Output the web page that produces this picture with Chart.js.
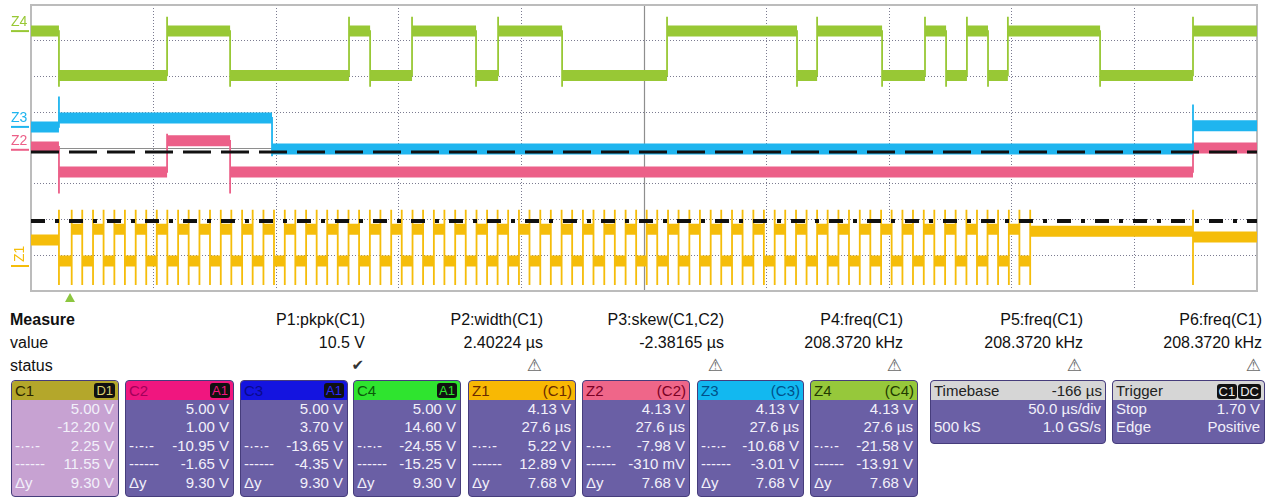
<!DOCTYPE html>
<html>
<head>
<meta charset="utf-8">
<script src="https://cdn.jsdelivr.net/npm/chart.js@4.4.1/dist/chart.umd.min.js"></script>
<style>
body { margin: 0; background: #fff; font-family: "Liberation Sans", Arial, sans-serif; }
#wrap { position: relative; width: 1271px; height: 500px; overflow: hidden; }
#scope { position: absolute; left: 0; top: 0; }
.m { position: absolute; font-size: 16px; color: #111; white-space: nowrap; line-height: 18px; }
.mr { text-align: right; }
.ok { color: #333; font-family: "DejaVu Sans"; font-size: 15px; }
.warn { color: #6a6a6a; font-family: "DejaVu Sans"; font-size: 17px; }
.box { position: absolute; top: 380px; height: 117px; background: #6a5fa5; border: 1px solid #463d7c;
       border-radius: 4px; box-sizing: border-box; color: #f2f0fa; font-size: 15px; overflow: hidden; }
.hd { height: 19px; display: flex; justify-content: space-between; align-items: center; padding: 0 3px;
      border-radius: 3px 3px 0 0; font-size: 15px; }
.badge { background: #111; border-radius: 3px; padding: 0 2px; font-size: 13px; line-height: 15px; margin-left: 1px; }
.row { height: 18.4px; line-height: 18.4px; display: flex; justify-content: space-between; padding: 0 4px 0 3px; white-space: nowrap; }
</style>
</head>
<body>
<div id="wrap">
  <canvas id="scope" width="1271" height="305"></canvas>
  <div id="panel"></div>
</div>
<script>
// time axis in µs (50 µs/div, 10 div), vertical axis in divisions (-4..4)
const timeMin = 0;
const timeMax = 500;

// Z4 (green) step trace: edge times and level of each segment
const z4Edges = [0, 11.4, 55.5, 81.2, 129.7, 138.3, 155.4, 181.5, 190.5, 216.6, 259.4, 312.4, 320.6, 347.1, 364.6, 373.2, 381.7, 390.3, 398.4, 436.0, 473.9, 500];
const z4Levels = [3.27, 2.03, 3.27, 2.03, 3.27, 2.03, 3.27, 2.03, 3.27, 2.03, 3.27, 2.03, 3.27, 2.03, 3.27, 2.03, 3.27, 2.03, 3.27, 2.03, 3.27];

// Z3 (cyan)
const z3Edges = [0, 11.4, 98.3, 473.9, 500];
const z3Levels = [0.59, 0.84, -0.03, 0.62];

// Z2 (pink)
const z2Edges = [0, 11.4, 55.5, 81.2, 473.9, 500];
const z2Levels = [0.03, -0.67, 0.20, -0.67, 0.0];

// Z1 (yellow) pulse train
const z1Start = -2.57;
const z1High = -2.27;
const z1Low = -3.16;
const z1FirstFall = 11.4;
const z1Rise = [16.6, 25.3, 34.0, 42.7, 51.3, 60.0, 68.7, 77.4, 86.1, 94.8, 103.5, 112.2, 120.8, 129.5, 138.2,
  146.9, 155.6, 164.3, 173.0, 181.7, 190.3, 199.0, 207.7, 216.4, 225.1, 233.8, 242.5, 251.1, 259.8, 268.5,
  277.2, 285.9, 294.6, 303.3, 312.0, 320.6, 329.3, 338.0, 346.7, 355.4, 364.1, 372.8, 381.5, 390.1, 398.8];
const z1Fall = [20.9, 29.6, 38.3, 47.0, 55.6, 64.3, 73.0, 81.7, 90.4, 99.1, 107.8, 116.5, 125.1, 133.8, 142.5,
  151.2, 159.9, 168.6, 177.3, 186.0, 194.6, 203.3, 212.0, 220.7, 229.4, 238.1, 246.8, 255.4, 264.1, 272.8,
  281.5, 290.2, 298.9, 307.6, 316.3, 324.9, 333.6, 342.3, 351.0, 359.7, 368.4, 377.1, 385.8, 394.4, 403.1];
const z1TailEdges = [407.5, 473.9, 500];
const z1TailLevels = [-2.33, -2.49];
const z1Spike = [-3.83, -1.73];

// black reference lines
const ref1Level = -0.11;
const ref2Level = -2.04;
const triggerTime = 15.9;

// measurement table
const measureNames = ['P1:pkpk(C1)', 'P2:width(C1)', 'P3:skew(C1,C2)', 'P4:freq(C1)', 'P5:freq(C1)', 'P6:freq(C1)'];
const measureValues = ['10.5 V', '2.40224 µs', '-2.38165 µs', '208.3720 kHz', '208.3720 kHz', '208.3720 kHz'];
const measureStatus = ['ok', 'warn', 'warn', 'warn', 'warn', 'warn'];

// channel descriptor boxes
const chanNames = ['C1', 'C2', 'C3', 'C4', 'Z1', 'Z2', 'Z3', 'Z4'];
const chanTags = ['D1', 'A1', 'A1', 'A1', '(C1)', '(C2)', '(C3)', '(C4)'];
const chanScale = ['5.00 V', '5.00 V', '5.00 V', '5.00 V', '4.13 V', '4.13 V', '4.13 V', '4.13 V'];
const chanOffset = ['-12.20 V', '1.00 V', '3.70 V', '14.60 V', '27.6 µs', '27.6 µs', '27.6 µs', '27.6 µs'];
const chanCursor1 = ['2.25 V', '-10.95 V', '-13.65 V', '-24.55 V', '5.22 V', '-7.98 V', '-10.68 V', '-21.58 V'];
const chanCursor2 = ['11.55 V', '-1.65 V', '-4.35 V', '-15.25 V', '12.89 V', '-310 mV', '-3.01 V', '-13.91 V'];
const chanDelta = ['9.30 V', '9.30 V', '9.30 V', '9.30 V', '7.68 V', '7.68 V', '7.68 V', '7.68 V'];

const timebaseRows = [['Timebase', '-166 µs'], ['', '50.0 µs/div'], ['500 kS', '1.0 GS/s']];
const triggerRows = [['Trigger', ''], ['Stop', '1.70 V'], ['Edge', 'Positive']];

// ---- build line data ----
const bandData = (edges, levels) => {
  const pts = [];
  for (let i = 0; i < levels.length; i++) {
    pts.push({ x: edges[i], y: levels[i] }, { x: edges[i + 1], y: levels[i] }, { x: edges[i + 1], y: null });
  }
  return pts;
};

const edgeData = (edges, levels, up, down) => {
  const pts = [{ x: edges[0], y: levels[0] }];
  for (let i = 1; i < levels.length; i++) {
    const t = edges[i], a = levels[i - 1], b = levels[i];
    pts.push({ x: t, y: a });
    if (Array.isArray(up)) {
      pts.push({ x: t, y: up[0] }, { x: t, y: up[1] });
    } else {
      pts.push({ x: t, y: b > a ? b + up : b - down });
    }
    pts.push({ x: t, y: b });
  }
  pts.push({ x: edges[edges.length - 1], y: levels[levels.length - 1] });
  return pts;
};

const z1Edges = [timeMin, z1FirstFall];
const z1Levels = [z1Start, z1Low];
z1Rise.forEach((r, i) => {
  z1Edges.push(r, z1Fall[i]);
  z1Levels.push(z1High, z1Low);
});
z1Edges.push(...z1TailEdges);
z1Levels.push(...z1TailLevels);

const colZ1 = '#f5bd0a';
const colZ2 = '#ec5f88';
const colZ3 = '#1fb5ef';
const colZ4 = '#98c835';

const band = (data, color) => ({ data, borderColor: color, borderWidth: 11, borderCapStyle: 'butt', spanGaps: false });
const thin = (data, color) => ({ data, borderColor: color, borderWidth: 1.8, spanGaps: false });

const datasets = [
  { data: [{ x: timeMin, y: ref1Level }, { x: timeMax, y: ref1Level }], borderColor: '#111', borderWidth: 3, borderDash: [28, 10] },
  { data: [{ x: timeMin, y: ref2Level }, { x: timeMax, y: ref2Level }], borderColor: '#111', borderWidth: 4, borderDash: [14, 10, 4, 10] },
  band(bandData(z4Edges, z4Levels), colZ4),
  thin(edgeData(z4Edges, z4Levels, 0.4, 0.32), colZ4),
  band(bandData(z3Edges, z3Levels), colZ3),
  thin(edgeData(z3Edges, z3Levels, 0.6, 0.2), colZ3),
  band(bandData(z2Edges, z2Levels), colZ2),
  thin(edgeData(z2Edges, z2Levels, 0.2, 0.6), colZ2),
  band(bandData(z1Edges, z1Levels), colZ1),
  thin(edgeData(z1Edges, z1Levels, z1Spike), colZ1),
];

const chanLabels = [
  ['Z4', colZ4, 3.27, false],
  ['Z3', colZ3, 0.59, false],
  ['Z2', colZ2, -0.05, false],
  ['Z1', colZ1, -3.3, true],
];

const scopeDecor = {
  id: 'scopeDecor',
  beforeDatasetsDraw(chart) {
    const { ctx, chartArea: a, scales: { x, y } } = chart;
    ctx.save();
    ctx.strokeStyle = '#8e8e8e';
    ctx.lineWidth = 1.2;
    ctx.beginPath();
    const cx = Math.round(x.getPixelForValue((timeMin + timeMax) / 2)) + 0.5;
    ctx.moveTo(cx, a.top);
    ctx.lineTo(cx, a.bottom);
    const cy = Math.round(y.getPixelForValue(0)) + 0.5;
    ctx.moveTo(a.left, cy);
    ctx.lineTo(a.right, cy);
    ctx.stroke();
    ctx.strokeStyle = '#bcbcbc';
    ctx.lineWidth = 2;
    ctx.strokeRect(a.left, a.top, a.width, a.height);
    ctx.restore();
  },
  afterDraw(chart) {
    const { ctx, chartArea: a, scales: { x, y } } = chart;
    ctx.save();
    ctx.font = '14px "Liberation Sans", Arial';
    chanLabels.forEach(([txt, color, lvl, rot]) => {
      const py = y.getPixelForValue(lvl);
      ctx.fillStyle = color;
      ctx.strokeStyle = color;
      ctx.lineWidth = 2;
      ctx.beginPath();
      ctx.moveTo(11, py);
      ctx.lineTo(a.left - 2, py);
      ctx.stroke();
      if (rot) {
        ctx.save();
        ctx.translate(24, py - 4);
        ctx.rotate(-Math.PI / 2);
        ctx.fillText(txt, 0, 0);
        ctx.restore();
      } else {
        ctx.fillText(txt, 11, py - 5);
      }
    });
    // trigger position marker
    const tx = x.getPixelForValue(triggerTime);
    ctx.fillStyle = '#8cc63f';
    ctx.beginPath();
    ctx.moveTo(tx, a.bottom + 2);
    ctx.lineTo(tx - 5, a.bottom + 11);
    ctx.lineTo(tx + 5, a.bottom + 11);
    ctx.closePath();
    ctx.fill();
    ctx.restore();
  }
};

new Chart(document.getElementById('scope'), {
  type: 'line',
  data: { datasets },
  options: {
    responsive: false,
    animation: false,
    layout: { autoPadding: false, padding: { left: 31, right: 14, top: 5, bottom: 14 } },
    elements: { point: { radius: 0, hitRadius: 0 }, line: { tension: 0 } },
    plugins: { legend: { display: false }, tooltip: { enabled: false } },
    events: [],
    scales: {
      x: {
        type: 'linear', min: timeMin, max: timeMax,
        ticks: { display: false, stepSize: 50 },
        grid: { color: 'rgba(100,100,125,0.85)', lineWidth: 1, drawTicks: false },
        border: { display: false, dash: [1, 2] }
      },
      y: {
        type: 'linear', min: -4, max: 4,
        ticks: { display: false, stepSize: 1 },
        grid: { color: 'rgba(100,100,125,0.85)', lineWidth: 1, drawTicks: false },
        border: { display: false, dash: [1, 2] }
      }
    }
  },
  plugins: [scopeDecor]
});

// ---- bottom panel ----
const panel = document.getElementById('panel');
let html = '';
html += '<div class="m" style="left:10px;top:311px;font-weight:bold">Measure</div>';
html += '<div class="m" style="left:10px;top:334px">value</div>';
html += '<div class="m" style="left:10px;top:357px">status</div>';
const measureRight = [365, 543, 724, 903, 1083, 1262];
measureNames.forEach((n, i) => {
  const r = 1271 - measureRight[i];
  html += `<div class="m mr" style="right:${r}px;top:311px">${n}</div>`;
  html += `<div class="m mr" style="right:${r}px;top:334px">${measureValues[i]}</div>`;
  const icon = measureStatus[i] === 'ok' ? '<span class="ok">✔</span>' : '<span class="warn">⚠</span>';
  html += `<div class="m mr" style="right:${r + 1}px;top:356px">${icon}</div>`;
});

const boxLeft = [11, 125, 240, 353, 468, 582, 697, 810];
const boxWidth = [108, 109, 108, 108, 108, 108, 107, 108];
const hdColor = ['#b4a72b', '#f0167f', '#1414e0', '#2fe42f', '#f8b804', '#ef6689', '#12b8f0', '#96c83b'];
const hdText = ['#2a2500', '#a3005a', '#0a0a8a', '#0b5a0b', '#6a2a00', '#7a0024', '#00508a', '#223a00'];
const badgeText = ['#d8d070', '#f0167f', '#2a2aff', '#2fe42f'];
chanNames.forEach((c, i) => {
  const bodyBg = i === 0 ? 'background:#c7a2d2;' : '';
  const tag = i < 4
    ? `<span class="badge" style="color:${badgeText[i]}">${chanTags[i]}</span>`
    : `<span style="color:${hdText[i]}">${chanTags[i]}</span>`;
  html += `<div class="box" style="left:${boxLeft[i]}px;width:${boxWidth[i]}px;${bodyBg}">` +
    `<div class="hd" style="background:${hdColor[i]};color:${hdText[i]}"><span>${c}</span>${tag}</div>` +
    `<div class="row"><span></span><span>${chanScale[i]}</span></div>` +
    `<div class="row"><span></span><span>${chanOffset[i]}</span></div>` +
    `<div class="row"><span>-·-·-</span><span>${chanCursor1[i]}</span></div>` +
    `<div class="row"><span>------</span><span>${chanCursor2[i]}</span></div>` +
    `<div class="row"><span>Δy</span><span>${chanDelta[i]}</span></div>` +
    '</div>';
});

const smallBox = (left, width, rows, badges) => {
  let s = `<div class="box" style="left:${left}px;width:${width}px;height:64px">`;
  s += `<div class="hd" style="background:#d6d6d6;color:#222"><span>${rows[0][0]}</span>` +
    (badges ? `<span>${badges.map(b => `<span class="badge" style="color:#eee">${b}</span>`).join('')}</span>` : `<span>${rows[0][1]}</span>`) +
    '</div>';
  rows.slice(1).forEach(r => {
    s += `<div class="row"><span>${r[0]}</span><span>${r[1]}</span></div>`;
  });
  return s + '</div>';
};
html += smallBox(930, 176, timebaseRows, null);
html += smallBox(1112, 153, triggerRows, ['C1', 'DC']);
panel.innerHTML = html;
</script>
</body>
</html>
